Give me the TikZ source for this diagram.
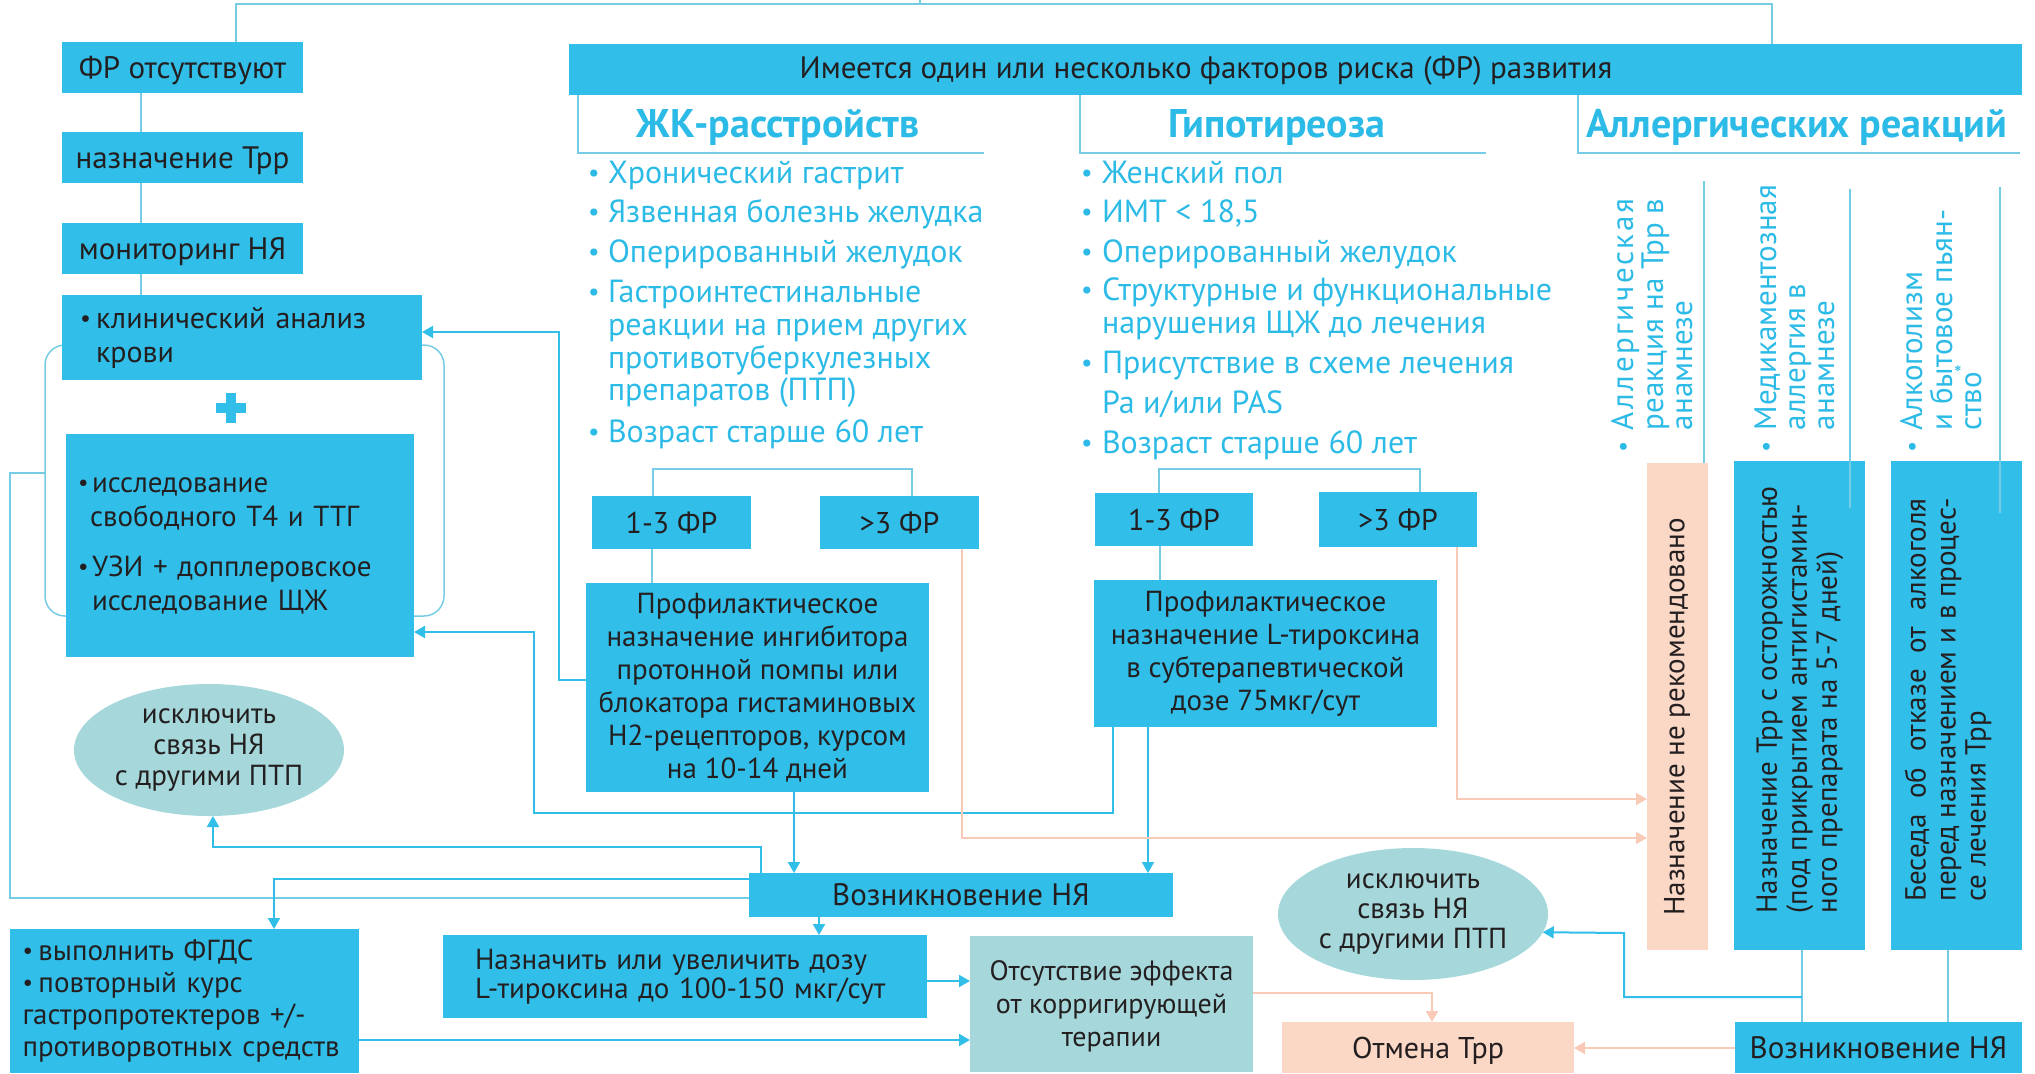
\documentclass[tikz,border=0pt]{standalone}
\usepackage{fontspec}
\usepackage{graphicx}
\setmainfont{PT Sans}
\usetikzlibrary{fit,arrows.meta,shapes.geometric}
\definecolor{cy}{RGB}{49,191,234}
\definecolor{tb}{RGB}{44,186,230}
\definecolor{pe}{RGB}{251,215,197}
\definecolor{pl}{RGB}{249,203,182}
\definecolor{tl}{RGB}{166,216,219}
\definecolor{ll}{RGB}{118,204,228}
\definecolor{ink}{RGB}{35,31,32}
\newcommand\fsz[2]{\fontsize{#1}{#2}\selectfont}
\newcommand\bul[1]{\makebox[#1][l]{\raisebox{0.06em}{\scalebox{0.8}{•}}}}
\newlength\wlen
\begin{document}
\begin{tikzpicture}[x=0.5pt,y=-0.5pt,
 bx/.style n args={4}{minimum width={(#3-#1)*0.5pt},minimum height={(#4-#2)*0.5pt},at={({(#1+#3)/2},{(#2+#4)/2})}},
 bbox/.style={fill=cy,inner sep=0pt,outer sep=0pt,text=ink,align=center,font=\fsz{14.5}{16.5}},
 pbox/.style={bbox,fill=pe},
 tbox/.style={bbox,fill=tl},
 sl/.style={text depth=0pt},
 ell/.style={ellipse,fill=tl,inner sep=0pt,outer sep=0pt,minimum width=135pt,minimum height=66pt,text=ink,align=center,font=\fsz{14.5}{15.5}},
 light/.style={draw=ll,line width=0.75pt},
 arr/.style={draw=cy,line width=1pt,-{Triangle[length=5.5pt,width=6pt]}},
 parr/.style={draw=pl,line width=1pt,-{Triangle[length=5.5pt,width=6pt]}},
 li/.style={anchor=base west,inner sep=0pt,outer sep=0pt,text=tb,font=\fsz{16}{18}},
 vl/.style={li,rotate=90,font=\fsz{15.5}{15}},
 hd/.style={anchor=base,inner sep=0pt,text=tb,font=\fsz{20}{22}\bfseries},
 vt/.style={rotate=90,inner sep=0pt,text=ink,align=left,font=\fsz{14.5}{15}}
]
\useasboundingbox (0,0) rectangle (2035,1073);

% bracket behind the test boxes
\node[fit={(45,345)(444,616)},inner sep=0pt,outer sep=0pt,draw=ll,line width=0.75pt,rounded corners=10pt] (brk) {};

% left column
\node[bbox,sl,bx={62}{42}{303}{93},font=\fsz{15.5}{17}] (fr0) {ФР отсутствуют};
\node[bbox,sl,bx={62}{132}{303}{183},font=\fsz{15.5}{17}] (trp) {назначение Трр};
\node[bbox,sl,bx={62}{223}{303}{274},font=\fsz{15.5}{17}] (mon) {мониторинг НЯ};
\node[bbox,bx={62}{295}{422}{380},text width=162pt,align=left,font=\fsz{15}{17}] (cba) {\bul{8pt}клинический анализ\\\hspace*{8pt}крови};
\fill[cy] (216,403) rectangle (246,413);
\fill[cy] (226,393) rectangle (236,423);
\node[bbox,bx={66}{434}{414}{657},text width=162pt,align=left,font=\fsz{14.5}{17}] (tst) {\bul{7pt}исследование\\\hspace*{6pt}свободного Т4 и ТТГ\\[8pt]\bul{7pt}УЗИ + допплеровское\\\hspace*{7pt}исследование ЩЖ};
\node[ell] (ell1) at (209,750) {исключить\\связь НЯ\\с другими ПТП};

% header bar
\node[bbox,bx={569}{44}{2022}{95}] (bar) {};
\node[inner sep=0pt,text=ink,font=\fsz{15.5}{17}] (bart) at (1206,71) {Имеется один или несколько факторов риска (ФР) развития};
\node[hd] (tj) at (778,137) {ЖК-расстройств};
\node[hd] (th) at (1277,137) {Гипотиреоза};
\node[hd] (ta) at (1797,137) {Аллергических реакций};

% GI list
\node[li] (j1) at (588,183) {\bul{10pt}Хронический гастрит};
\node[li] (j2) at (588,222) {\bul{10pt}Язвенная болезнь желудка};
\node[li] (j3) at (588,262) {\bul{10pt}Оперированный желудок};
\node[li] (j4) at (588,302) {\bul{10pt}Гастроинтестинальные};
\node[li] (j5) at (608,335) {реакции на прием других};
\node[li] (j6) at (608,368) {противотуберкулезных};
\node[li] (j7) at (608,400) {препаратов (ПТП)};
\node[li] (j8) at (588,442) {\bul{10pt}Возраст старше 60 лет};

% hypothyroid list
\node[li] (h1) at (1081,183) {\bul{10.5pt}Женский пол};
\node[li] (h2) at (1081,222) {\bul{10.5pt}ИМТ < 18,5};
\node[li] (h3) at (1081,262) {\bul{10.5pt}Оперированный желудок};
\node[li] (h4) at (1081,300) {\bul{10.5pt}Структурные и функциональные};
\node[li] (h5) at (1102,333) {нарушения ЩЖ до лечения};
\node[li] (h6) at (1081,373) {\bul{10.5pt}Присутствие в схеме лечения};
\node[li] (h7) at (1102,413) {Ра и/или PAS};
\node[li] (h8) at (1081,453) {\bul{10.5pt}Возраст старше 60 лет};

% allergy list (vertical)
\node[vl] (a1) at (1633,452) {\bul{11pt}\settowidth{\wlen}{реакция на Трр в}\makebox[\wlen][s]{А\hfil л\hfil л\hfil е\hfil р\hfil г\hfil и\hfil ч\hfil е\hfil с\hfil к\hfil а\hfil я}};
\node[vl] (a2) at (1663,430) {реакция на Трр в};
\node[vl] (a3) at (1692,430) {анамнезе};
\node[vl] (m1) at (1776,452) {\bul{11pt}Медикаментозная};
\node[vl] (m2) at (1805,430) {аллергия в};
\node[vl] (m3) at (1834,430) {анамнезе};
\node[vl] (k1) at (1922,452) {\bul{11pt}Алкоголизм};
\node[vl] (k2) at (1952,430) {и бытовое пьян-};
\node[vl] (k3) at (1981,430) {ство\textsuperscript{*}};

% FR boxes
\node[bbox,sl,bx={592}{496}{751}{549},font=\fsz{15}{17}] (f13a) {1-3 ФР};
\node[bbox,sl,bx={820}{496}{979}{549},font=\fsz{15}{17}] (f3a) {>3 ФР};
\node[bbox,sl,bx={1095}{493}{1253}{546},font=\fsz{15}{17}] (f13b) {1-3 ФР};
\node[bbox,sl,bx={1319}{492}{1477}{547},font=\fsz{15}{17}] (f3b) {>3 ФР};
\node[bbox,bx={586}{583}{929}{792}] (ppi) {Профилактическое\\назначение ингибитора\\протонной помпы или\\блокатора гистаминовых\\H2-рецепторов, курсом\\на 10-14 дней};
\node[bbox,bx={1094}{580}{1437}{727}] (ltx) {Профилактическое\\назначение L-тироксина\\в субтерапевтической\\дозе 75мкг/сут};

% bottom
\node[bbox,sl,bx={749}{873}{1173}{917},font=\fsz{15.5}{17}] (ne) {Возникновение НЯ};
\node[bbox,bx={10}{929}{359}{1073},text width=162pt,align=left,font=\fsz{14.5}{16}] (fgds) {\bul{8pt}выполнить ФГДС\\\bul{8pt}повторный курс\\гастропротектеров +/-\\противорвотных средств};
\node[bbox,bx={443}{935}{927}{1018},text width=210pt,align=left,font=\fsz{14.5}{14.5}] (dose) {Назначить или увеличить дозу\\L-тироксина до 100-150 мкг/сут};
\node[tbox,sl,bx={970}{936}{1253}{1072},font=\fsz{14}{16.5}] (noeff) {Отсутствие эффекта\\от корригирующей\\терапии};
\node[pbox,sl,bx={1282}{1022}{1574}{1073},font=\fsz{15}{17}] (cancel) {Отмена Трр};
\node[bbox,sl,bx={1735}{1022}{2022}{1073},font=\fsz{15.5}{17}] (ne2) {Возникновение НЯ};
\node[ell,font=\fsz{14.5}{15}] (ell2) at (1413,914) {исключить\\связь НЯ\\с другими ПТП};

% right vertical boxes
\node[pbox,bx={1647}{463}{1708}{950}] (notrec) {};
\node[bbox,bx={1734}{461}{1865}{950}] (caut) {};
\node[bbox,bx={1891}{461}{2022}{950}] (talk) {};
\node[vt] (tnr) at (1677,717) {Назначение не рекомендовано};
\node[vt] (tca) at (1800,700) {Назначение Трр с осторожностью\\(под прикрытием антигистамин-\\ного препарата на 5-7 дней)};
\node[vt] (tta) at (1948,700) {\settowidth{\wlen}{перед назначением и в процес-}\makebox[\wlen][s]{Беседа об отказе от алкоголя}\\перед назначением и в процес-\\се лечения Трр};

% thin lines
\draw[light] (fr0.north -| 236,0) |- (1772,4) -- (bar.north -| 1772,0);
\draw[light] (920,0) -- (920,4);
\draw[light] (fr0.south -| 141,0) -- (trp.north -| 141,0);
\draw[light] (trp.south -| 141,0) -- (mon.north -| 141,0);
\draw[light] (mon.south -| 141,0) -- (cba.north -| 141,0);
\draw[light] (bar.south -| 578,0) |- (984,153);
\draw[light] (bar.south -| 1080,0) |- (1486,153);
\draw[light] (bar.south -| 1578,0) |- (2020,153);
\draw[light] (f13a.north -| 653,0) |- (912,469) -- (f3a.north -| 912,0);
\draw[light] (f13b.north -| 1159,0) |- (1420,469) -- (f3b.north -| 1420,0);
\draw[light] (f13a.south -| 652,0) -- (ppi.north -| 652,0);
\draw[light] (f13b.south -| 1160,0) -- (ltx.north -| 1160,0);
\draw[light] (1704,181) -- (notrec.north -| 1704,0);
\draw[light] (1850,189) -- (1850,508);
\draw[light] (2000,187) -- (2000,513);
\draw[light] (ne.west |- 0,898) -| (10,473) -- (brk.west |- 0,473);
\draw[light] (caut.south -| 1802,0) -- (ne2.north -| 1802,0);
\draw[light] (talk.south -| 1948,0) -- (ne2.north -| 1948,0);

% arrows
\draw[arr] (ppi.west |- 0,680) -| (559,332) -- (cba.east |- 0,332);
\draw[arr] (ltx.south -| 1113,0) |- (534,813) |- (tst.east |- 0,632);
\draw[arr] (ppi.south -| 794,0) -- (ne.north -| 794,0);
\draw[arr] (ltx.south -| 1148,0) -- (ne.north -| 1148,0);
\draw[arr] (ne.north -| 761,0) |- (213,847) -- (ell1.south -| 213,0);
\draw[arr] (ne.west |- 0,879) -| (fgds.north -| 274,0);
\draw[arr] (ne.south -| 819,0) -- (dose.north -| 819,0);
\draw[arr] (fgds.east |- 0,1040) -- (noeff.west |- 0,1040);
\draw[arr] (dose.east |- 0,981) -- (noeff.west |- 0,981);
\coordinate (jn) at (1802,997);
\draw[arr] (jn) -| (1624,933) -- (ell2.-8.4);
\draw[parr] (noeff.east |- 0,993) -| (cancel.north -| 1432,0);
\draw[parr] (ne2.west |- 0,1048) -- (cancel.east |- 0,1048);
\draw[parr] (f3a.south -| 962,0) |- (notrec.west |- 0,838);
\draw[parr] (f3b.south -| 1457,0) |- (notrec.west |- 0,799);
\end{tikzpicture}
\end{document}
